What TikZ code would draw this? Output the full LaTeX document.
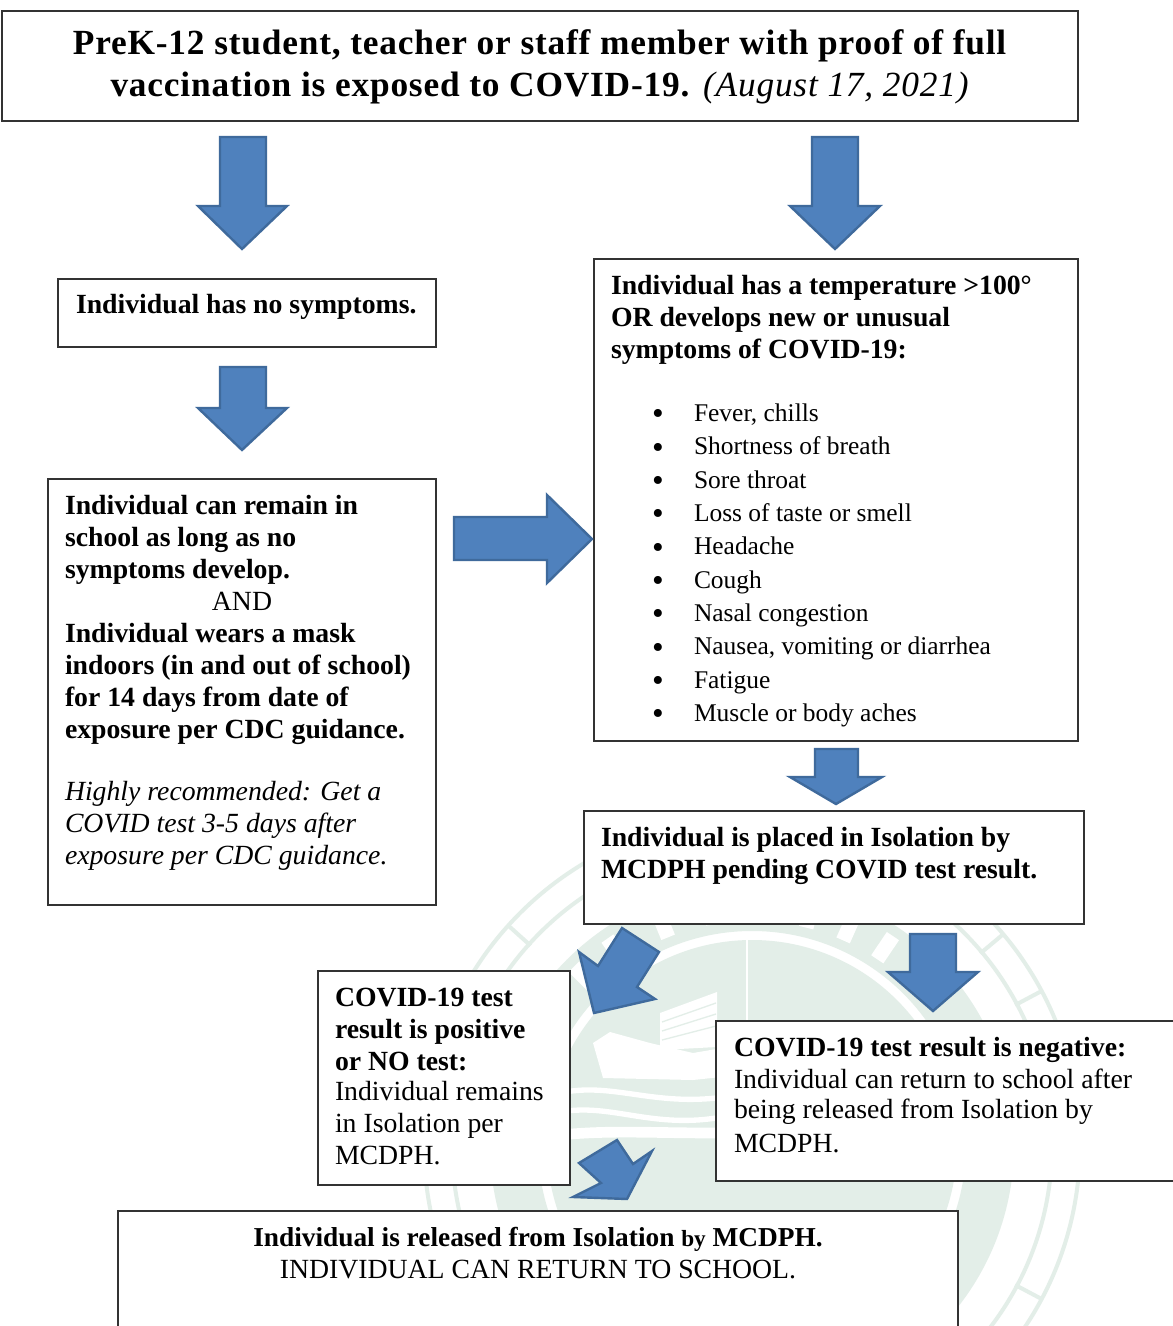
\documentclass[tikz,border=0pt]{standalone}
\usepackage{fontspec}
\usetikzlibrary{calc}
\setmainfont{Liberation Serif}
\newdimen\pxu \pxu=0.75pt
\definecolor{sealpale}{HTML}{E3EEE8}
\definecolor{arrowfill}{HTML}{4F81BD}
\definecolor{arrowline}{HTML}{3F6A9C}
\definecolor{boxline}{HTML}{333333}
\tikzset{
  flowbox/.style={draw=boxline,line width=1.9pt,fill=white,inner sep=0pt,outer sep=0pt,anchor=north west},
  blockarrow/.style={fill=arrowfill,draw=arrowline,line width=1.8pt,line join=miter},
  sealline/.style={draw=sealpale,line width=3pt},
  sealwhite/.style={draw=white,line width=4pt},
}
\newcommand{\bodyfont}{\fontsize{20.8pt}{24pt}\selectfont}
\newcommand{\listfont}{\fontsize{19.1pt}{25pt}\selectfont}
% name, x0, y0, x1, y1, left pad, first baseline, text
\newcommand{\flownode}[8]{%
  \node[flowbox] (#1) at (#2,#3) {%
    \begin{minipage}[c][\dimexpr#5\pxu-#3\pxu\relax][t]{\dimexpr#4\pxu-#2\pxu\relax}%
      \raggedright\leftskip=#6\pxu
      \vspace*{\dimexpr#7\pxu-#3\pxu-18pt\relax}%
      \rule{0pt}{18pt}#8\par
    \end{minipage}};}
\newcommand{\itm}[1]{\hspace*{41\pxu}\makebox[42\pxu][l]{\raisebox{-2.6pt}{\fontsize{25pt}{25pt}\selectfont\textbullet}}#1}
\begin{document}
\begin{tikzpicture}[x=0.75pt,y=-0.75pt]
\useasboundingbox (0,0) rectangle (1172,1326);
\fill[white] (0,0) rectangle (1172,1326);
% --- watermark seal ---
\begin{scope}
\clip (0,0) rectangle (1172,1326);
\coordinate (sc) at (752,1145);
\draw[sealline] (sc) circle[radius=328];
\draw[sealline] (sc) circle[radius=300];
\foreach \a in {-150,-138,-40,-28,28,40,138,150}
  \draw[sealline] ($(sc)+(\a:298)$) -- ($(sc)+(\a:328)$);
\draw[sealpale,line width=36pt] (sc) circle[radius=238];
\fill[sealpale] (sc) circle[radius=205];
% white letter blobs on the ring
\foreach \a in {-125,-112,-100,-88,-76,-66,-56,-46,-135,-146,50,62,76,90,104,118,130}
  \draw[white,line width=11pt] ($(sc)+(\a:224)$) -- ($(sc)+(\a:252)$);
\draw[white,line width=2pt] (747,940) -- (747,1060);
% buildings
\fill[white] (660,1013) -- (717,992) -- (717,1047) -- (660,1050) -- cycle;
\draw[sealpale,line width=1pt] (662,1022) -- (716,1003) (662,1031) -- (716,1014) (662,1040) -- (716,1026);
\fill[white] (593,1043) -- (610,1032) -- (650,1043) -- (693,1053) -- (693,1080) -- (603,1078) -- cycle;
\fill[white] (693,1053) -- (740,1045) -- (740,1075) -- (693,1080) -- cycle;
% waves
\draw[sealwhite] (560,1093) .. controls (610,1082) and (650,1105) .. (716,1098);
\draw[sealwhite] (560,1112) .. controls (610,1103) and (650,1128) .. (716,1118);
\draw[white,line width=8pt] (560,1135) .. controls (610,1130) and (650,1133) .. (716,1133);
\end{scope}
% --- boxes ---
\flownode{top}{2}{11}{1078}{121}{0}{54}{\centering\fontsize{26.5pt}{31.5pt}\selectfont\addfontfeatures{LetterSpace=2.3}
  \textbf{PreK-12 student, teacher or staff member with proof of full}\\
  \textbf{vaccination is exposed to COVID-19.} \textit{(August 17, 2021)}}
\flownode{nosym}{58}{279}{436}{347}{18}{314}{\bodyfont\textbf{Individual has no symptoms.}}
\flownode{remain}{48}{479}{436}{905}{17}{514}{\bodyfont
  \textbf{Individual can remain in}\\
  \textbf{school as long as no}\\
  \textbf{symptoms develop.}\\
  \hspace*{177\pxu}\makebox[0pt]{AND}\\
  \textbf{Individual wears a mask}\\
  \textbf{indoors (in and out of school)}\\
  \textbf{for 14 days from date of}\\
  \textbf{exposure per CDC guidance.}\\[22.5pt]
  \textit{Highly recommended: Get a}\\
  \textit{COVID test 3-5 days after}\\
  \textit{exposure per CDC guidance.}}
\flownode{symptoms}{594}{259}{1078}{741}{17}{294}{\bodyfont
  \textbf{Individual has a temperature >100°}\\
  \textbf{OR develops new or unusual}\\
  \textbf{symptoms of COVID-19:}\\[22.5pt]
  \listfont
  \itm{Fever, chills}\\
  \itm{Shortness of breath}\\
  \itm{Sore throat}\\
  \itm{Loss of taste or smell}\\
  \itm{Headache}\\
  \itm{Cough}\\
  \itm{Nasal congestion}\\
  \itm{Nausea, vomiting or diarrhea}\\
  \itm{Fatigue}\\
  \itm{Muscle or body aches}}
\flownode{isolation}{584}{811}{1084}{924}{17}{846}{\bodyfont
  \textbf{Individual is placed in Isolation by}\\
  \textbf{MCDPH pending COVID test result.}}
\flownode{positive}{318}{971}{570}{1185}{17}{1006}{\bodyfont
  \textbf{COVID-19 test}\\
  \textbf{result is positive}\\
  \textbf{or NO test:}\\[-1.5pt]
  Individual remains\\
  in Isolation per\\
  MCDPH.}
\flownode{negative}{716}{1021}{1190}{1181}{18}{1056}{\bodyfont
  \textbf{COVID-19 test result is negative:}\\
  Individual can return to school after\\[-1.5pt]
  being released from Isolation by\\[1.5pt]
  MCDPH.}
\flownode{released}{118}{1211}{958}{1332}{0}{1246}{\centering\bodyfont
  {\fontsize{20.5pt}{24pt}\selectfont\textbf{Individual is released from Isolation {\fontsize{17.4pt}{24pt}\selectfont by} MCDPH.}}\\
  INDIVIDUAL CAN RETURN TO SCHOOL.}
% --- block arrows ---
\draw[blockarrow] (220,137) -- (266,137) -- (266,206) -- (287,206) -- (242,249) -- (198,206) -- (220,206) -- cycle;
\draw[blockarrow] (812,137) -- (858,137) -- (858,206) -- (880,206) -- (835,249) -- (790,206) -- (812,206) -- cycle;
\draw[blockarrow] (220,367) -- (266,367) -- (266,408) -- (287,408) -- (242,450) -- (198,408) -- (220,408) -- cycle;
\draw[blockarrow] (454,517) -- (547,517) -- (547,495) -- (592,539) -- (547,583) -- (547,560) -- (454,560) -- cycle;
\draw[blockarrow] (815,749) -- (858,749) -- (858,777) -- (882,777) -- (836,804) -- (790,777) -- (815,777) -- cycle;
\draw[blockarrow] (622,928) -- (659,952) -- (637,987) -- (655,999) -- (594,1013) -- (579,952) -- (598,966) -- cycle;
\draw[blockarrow] (910,934) -- (956,934) -- (956,972) -- (978,972) -- (933,1011) -- (888,972) -- (910,972) -- cycle;
\draw[blockarrow] (617,1140) -- (633,1164) -- (652,1151) -- (627,1199) -- (573,1197) -- (601,1183) -- (579,1163) -- cycle;
\end{tikzpicture}
\end{document}
